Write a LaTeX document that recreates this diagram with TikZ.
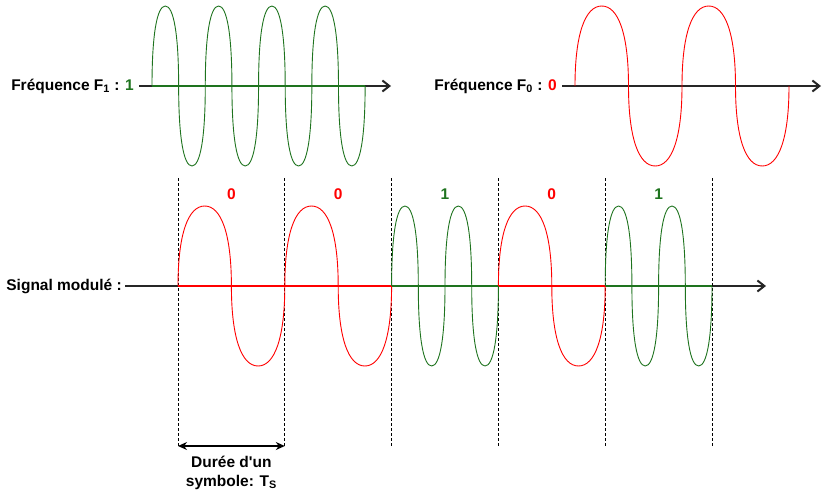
\documentclass[tikz,border=0pt]{standalone}
\usepackage{fontspec}
\setmainfont{Liberation Sans}[Ligatures=TeXOff]
\usetikzlibrary{arrows.meta}
\definecolor{sgreen}{RGB}{30,115,30}
\definecolor{sred}{RGB}{255,0,0}
% positive and negative half waves, #1 = quarter period
\def\posw#1{.. controls +(0,-52) and +(-0.62*#1,0) .. ++(#1,-80) .. controls +(0.62*#1,0) and +(0,-52) .. ++(#1,80)}
\def\negw#1{.. controls +(0,52) and +(-0.62*#1,0) .. ++(#1,80) .. controls +(0.62*#1,0) and +(0,52) .. ++(#1,-80)}
\begin{document}
\begin{tikzpicture}[x=1pt,y=-1pt,
  lbl/.style={font=\bfseries\fontsize{15.5}{19}\selectfont, inner sep=0pt},
  axis/.style={line width=2.2pt, black!85, -{Straight Barb[length=7pt,width=11pt,line width=2pt]}},
  wave/.style={line width=0.9pt},
  base/.style={line width=1.6pt},
  sep/.style={black, line width=0.8pt, dash pattern=on 3pt off 2pt}]
\useasboundingbox (0,0) rectangle (822,495);

% ---------- top left: F1 ----------
\node[lbl, anchor=east] (f1) at (134,86) {Fréquence F\textsubscript{1} : \textcolor{sgreen}{1}};
\coordinate (a1s) at (139,86);
\coordinate (a1e) at (391,86);
\draw[axis] (a1s) -- (a1e);
\draw[base, sgreen] (152,86) -- (365,86);
\draw[wave, sgreen] (152,86) \foreach \i in {1,...,4} { \posw{13.32} \negw{13.32} };

% ---------- top right: F0 ----------
\node[lbl, anchor=east] (f0) at (557,86) {Fréquence F\textsubscript{0} : \textcolor{sred}{0}};
\coordinate (a0s) at (562,86);
\coordinate (a0e) at (821,86);
\draw[axis] (a0s) -- (a0e);
\draw[wave, sred] (575,86) \foreach \i in {1,2} { \posw{26.75} \negw{26.75} };

% ---------- modulated signal ----------
\node[lbl, anchor=east] (sm) at (122,286) {Signal modulé :};
\coordinate (ms) at (125,286);
\coordinate (me) at (766,286);
\draw[axis] (ms) -- (me);

% dashed separators
\foreach \x [count=\k] in {178,284.8,391.6,498.4,605.2,712} {
  \coordinate (t\k) at (\x,178);
  \coordinate (b\k) at (\x,446);
  \draw[sep] (t\k) -- (b\k);
}

% baselines
\draw[base, sred]   (178,286) -- (391.6,286);
\draw[base, sgreen] (391.6,286) -- (498.4,286);
\draw[base, sred]   (498.4,286) -- (605.2,286);
\draw[base, sgreen] (605.2,286) -- (712,286);

% waves
\draw[wave, sred]   (178,286)   \posw{26.7} \negw{26.7};
\draw[wave, sred]   (284.8,286) \posw{26.7} \negw{26.7};
\draw[wave, sgreen] (391.6,286) \posw{13.35} \negw{13.35} \posw{13.35} \negw{13.35};
\draw[wave, sred]   (498.4,286) \posw{26.7} \negw{26.7};
\draw[wave, sgreen] (605.2,286) \posw{13.35} \negw{13.35} \posw{13.35} \negw{13.35};

% bit labels
\node[lbl, text=sred]   (l1) at (231.4,194) {0};
\node[lbl, text=sred]   (l2) at (338.2,194) {0};
\node[lbl, text=sgreen] (l3) at (445,194) {1};
\node[lbl, text=sred]   (l4) at (551.8,194) {0};
\node[lbl, text=sgreen] (l5) at (658.6,194) {1};

% symbol duration
\coordinate (d1) at (178,446);
\coordinate (d2) at (284.8,446);
\draw[line width=1.3pt, {Stealth[length=9pt,width=8pt]}-{Stealth[length=9pt,width=8pt]}] (d1) -- (d2);
\node[lbl, align=center] (dur) at (231.4,472.5) {Durée d'un\\symbole: T\textsubscript{S}};
\end{tikzpicture}
\end{document}
